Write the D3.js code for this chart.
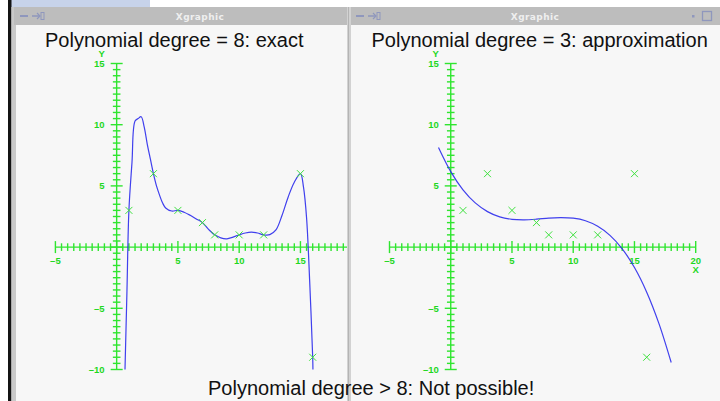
<!DOCTYPE html>
<html>
<head>
<meta charset="utf-8">
<script src="https://cdn.jsdelivr.net/npm/d3@7"></script>
<style>
  html, body { margin: 0; padding: 0; background: #ffffff; overflow: hidden; }
  svg { display: block; }
</style>
</head>
<body>
<svg id="chart" width="720" height="401"></svg>
<script>
// Sample points shared by both fits
const sampleX = [1, 3, 5, 7, 8, 10, 12, 15, 16];
const sampleY = [3, 6, 3, 2, 1, 1, 1, 6, -9];

// Degree-8 curve (passes through every sample)
const exactX = [0.68, 0.84, 1, 1.25, 1.5, 1.75, 2, 2.25, 2.5, 2.75, 3, 3.25, 3.5, 3.75, 4, 4.5, 5,
                5.5, 6, 6.5, 7, 7.5, 8, 8.5, 9, 9.5, 10, 10.5, 11, 11.5, 12, 12.5, 13, 13.5, 14,
                14.5, 15, 15.25, 15.5, 15.75, 16, 16.02];
const exactY = [-10, -3.6, 3, 6.9, 10.3, 10.5, 10.65, 9.8, 8.4, 7.2, 6, 5, 4.25, 3.6, 3.2, 2.95, 3,
                2.85, 2.6, 2.3, 2, 1.45, 1, 0.75, 0.68, 0.82, 1, 1.15, 1.22, 1.15, 1, 1.02, 1.4, 2.6, 4.1,
                5.3, 6, 4.9, 2.4, -2.7, -9, -10];

// Degree-3 least-squares curve
const approxX = [-1, 0, 1, 2, 3, 4, 5, 6, 7, 8, 9, 10, 11, 12, 13, 14, 15, 16, 17, 18];
const approxY = [8.14, 6.17, 4.68, 3.61, 2.9, 2.47, 2.27, 2.23, 2.28, 2.37, 2.41, 2.36, 2.15, 1.7,
                 0.96, -0.14, -1.67, -3.68, -6.25, -9.43];

// Axis ranges and labelled ticks
const xDomain = [-5, 20];
const yDomain = [-10, 15];
const xTickLabels = [-5, 5, 10, 15, 20];
const yTickLabels = [-10, -5, 5, 10, 15];

const panelTitles = ["Polynomial degree = 8: exact", "Polynomial degree = 3: approximation"];
const footerText = "Polynomial degree > 8: Not possible!";
const windowTitle = "Xgraphic";

const GREEN = "#2fe52f";
const GREEN_TXT = "#1fd81f";
const BLUE = "#2b2bec";

const svg = d3.select("#chart");
const defs = svg.append("defs");

// ---- desktop background and window frames ----
svg.append("rect").attr("x", 0).attr("y", 0).attr("width", 720).attr("height", 401).attr("fill", "#ffffff");
svg.append("rect").attr("x", 11).attr("y", 0).attr("width", 139).attr("height", 7).attr("fill", "#c7d3ea");
svg.append("rect").attr("x", 8).attr("y", 0).attr("width", 3.5).attr("height", 401).attr("fill", "#141414");
svg.append("rect").attr("x", 11.5).attr("y", 7).attr("width", 5).attr("height", 394).attr("fill", "#c9c9c9");

const windows = [
  { x: 14, w: 334, cx: 16, cw: 331, titleX: 200 },
  { x: 350, w: 370, cx: 351, cw: 369, titleX: 535 }
];

windows.forEach((win, i) => {
  // title bar
  svg.append("rect").attr("x", win.x).attr("y", 7).attr("width", win.w).attr("height", 18)
    .attr("fill", "#bdbdbd");
  svg.append("text").attr("x", win.titleX).attr("y", 20).attr("text-anchor", "middle")
    .attr("font-family", "'DejaVu Sans', sans-serif").attr("font-weight", "bold")
    .attr("font-size", 9).attr("letter-spacing", 0.4).attr("fill", "#efefef").text(windowTitle);
  // menu / pin icons
  const ix = win.x + 6;
  svg.append("line").attr("x1", ix).attr("x2", ix + 8).attr("y1", 16).attr("y2", 16)
    .attr("stroke", "#8f97bd").attr("stroke-width", 2);
  svg.append("line").attr("x1", ix + 12).attr("x2", ix + 20).attr("y1", 16).attr("y2", 16)
    .attr("stroke", "#8f97bd").attr("stroke-width", 1.5);
  svg.append("path").attr("d", `M${ix + 17},13 L${ix + 20},16 L${ix + 17},19`)
    .attr("fill", "none").attr("stroke", "#8f97bd").attr("stroke-width", 1.2);
  svg.append("rect").attr("x", ix + 21).attr("y", 12.5).attr("width", 3).attr("height", 7)
    .attr("fill", "none").attr("stroke", "#8f97bd").attr("stroke-width", 1);
  // content area
  svg.append("rect").attr("x", win.cx).attr("y", 25).attr("width", win.cw).attr("height", 376)
    .attr("fill", "#f7f7f7");
  defs.append("clipPath").attr("id", "win" + i).append("rect")
    .attr("x", win.cx).attr("y", 25).attr("width", win.cw).attr("height", 376);
});

// right window corner buttons
svg.append("rect").attr("x", 692).attr("y", 15).attr("width", 2.5).attr("height", 2.5).attr("fill", "#8f97bd");
svg.append("rect").attr("x", 702.5).attr("y", 11.5).attr("width", 9).attr("height", 9)
  .attr("fill", "none").attr("stroke", "#8f97bd").attr("stroke-width", 1.3);

// divider between the two windows
svg.append("rect").attr("x", 347).attr("y", 7).attr("width", 4).attr("height", 394).attr("fill", "#d2d2d2");
svg.append("line").attr("x1", 348.5).attr("x2", 348.5).attr("y1", 7).attr("y2", 401)
  .attr("stroke", "#b4b4b4").attr("stroke-width", 1);

// ---- plots ----
const panels = [
  { xRange: [55.4, 361.7], curveX: exactX, curveY: exactY, title: panelTitles[0], titleX: 45,
    right: 347 },
  { xRange: [389.5, 695.7], curveX: approxX, curveY: approxY, title: panelTitles[1], titleX: 371.5,
    right: 720 }
];
const yScale = d3.scaleLinear().domain(yDomain).range([369.5, 63.5]);

panels.forEach((p, i) => {
  const x = d3.scaleLinear().domain(xDomain).range(p.xRange);
  const y = yScale;
  const g = svg.append("g").attr("clip-path", `url(#win${i})`);
  // labels that would fall outside the window are not drawn
  const visible = v => x(v) + 4 < p.right;

  // axes through the origin
  const ax = g.append("g").attr("stroke", GREEN).attr("stroke-width", 1.4).attr("fill", "none");
  ax.append("line").attr("x1", x(xDomain[0])).attr("x2", x(xDomain[1]))
    .attr("y1", y(0)).attr("y2", y(0));
  ax.append("line").attr("x1", x(0)).attr("x2", x(0))
    .attr("y1", y(yDomain[0])).attr("y2", y(yDomain[1]));

  const xt = d3.range(xDomain[0], xDomain[1] + 0.001, 0.5);
  ax.selectAll(".xt").data(xt).join("line")
    .attr("x1", d => x(d)).attr("x2", d => x(d))
    .attr("y1", d => y(0) - (d % 5 === 0 ? 6 : 3.8))
    .attr("y2", d => y(0) + (d % 5 === 0 ? 6 : 3.8));
  const yt = d3.range(yDomain[0], yDomain[1] + 0.001, 0.5);
  ax.selectAll(".yt").data(yt).join("line")
    .attr("y1", d => y(d)).attr("y2", d => y(d))
    .attr("x1", d => x(0) - (d % 5 === 0 ? 6 : 3.8))
    .attr("x2", d => x(0) + (d % 5 === 0 ? 6 : 3.8));

  const lab = g.append("g").attr("fill", GREEN_TXT)
    .attr("font-family", "'Liberation Sans', Arial, sans-serif")
    .attr("font-weight", "bold").attr("font-size", 9.5);
  lab.selectAll(".xl").data(xTickLabels.filter(visible)).join("text")
    .attr("x", d => x(d)).attr("y", y(0) + 16.5).attr("text-anchor", "middle")
    .text(d => d < 0 ? "\u2013" + Math.abs(d) : d);
  lab.selectAll(".yl").data(yTickLabels).join("text")
    .attr("x", x(0) - 12).attr("y", d => y(d) + 3.5).attr("text-anchor", "end")
    .text(d => d < 0 ? "\u2013" + Math.abs(d) : d);
  lab.append("text").attr("x", x(0) - 15).attr("y", 56.5).attr("text-anchor", "middle").text("Y");
  if (visible(xDomain[1])) {
    lab.append("text").attr("x", x(xDomain[1])).attr("y", 273).attr("text-anchor", "middle").text("X");
  }

  // fitted curve, kept inside the y range
  const curveClip = "cc" + i;
  defs.append("clipPath").attr("id", curveClip).append("rect")
    .attr("x", 0).attr("y", y(yDomain[1])).attr("width", 720).attr("height", y(yDomain[0]) - y(yDomain[1]) + 0.5);
  const line = d3.line().x(d => x(d[0])).y(d => y(d[1])).curve(d3.curveCatmullRom.alpha(0.5));
  g.append("g").attr("clip-path", `url(#${curveClip})`).append("path")
    .datum(d3.zip(p.curveX, p.curveY))
    .attr("d", line).attr("fill", "none").attr("stroke", BLUE).attr("stroke-width", 1.2)
    .attr("stroke-opacity", 0.9);

  // sample markers
  g.selectAll(".pt").data(d3.zip(sampleX, sampleY)).join("path")
    .attr("d", d => {
      const cx = x(d[0]), cy = y(d[1]), r = 3.5;
      return `M${cx - r},${cy - r}L${cx + r},${cy + r}M${cx - r},${cy + r}L${cx + r},${cy - r}`;
    })
    .attr("stroke", "#3fe23f").attr("stroke-width", 1).attr("fill", "none");

  // panel title
  svg.append("text").attr("x", p.titleX).attr("y", 46.6)
    .attr("font-family", "'Liberation Sans', Arial, sans-serif").attr("font-size", 20)
    .attr("fill", "#111").text(p.title);
});

svg.append("text").attr("x", 208).attr("y", 395)
  .attr("font-family", "'Liberation Sans', Arial, sans-serif").attr("font-size", 20)
  .attr("fill", "#111").text(footerText);
</script>
</body>
</html>
